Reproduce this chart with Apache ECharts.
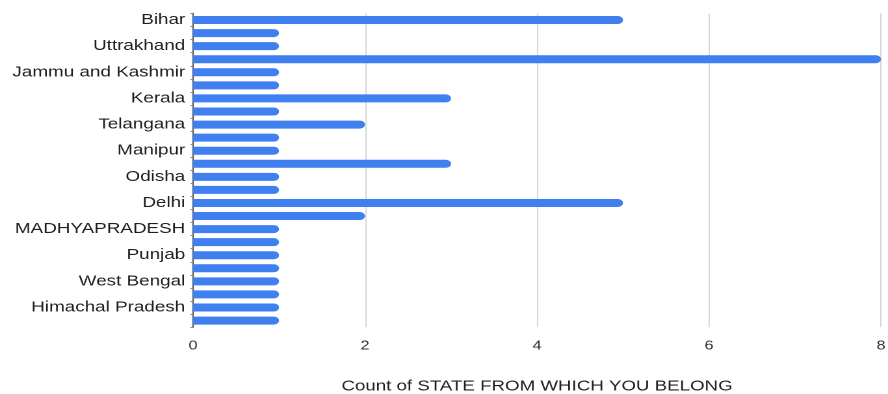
<!DOCTYPE html>
<html>
<head>
<meta charset="utf-8">
<script src="https://cdn.jsdelivr.net/npm/echarts@6/dist/echarts.min.js"></script>
<style>
  html, body { margin: 0; padding: 0; background: #fff; overflow: hidden; }
  /* the chart is laid out narrower and stretched horizontally */
  #chart { width: 683px; height: 394px; transform: scaleX(1.30015); transform-origin: 0 0; }
</style>
</head>
<body>
<div id="chart"></div>
<script>
// States, top to bottom (every other label is left unshown on the axis)
const states = [
  'Bihar', '', 'Uttrakhand', '', 'Jammu and Kashmir', '', 'Kerala', '',
  'Telangana', '', 'Manipur', '', 'Odisha', '', 'Delhi', '',
  'MADHYAPRADESH', '', 'Punjab', '', 'West Bengal', '', 'Himachal Pradesh', ''
];
// Count of respondents per state
const counts = [5, 1, 1, 8, 1, 1, 3, 1, 2, 1, 1, 3, 1, 1, 5, 2, 1, 1, 1, 1, 1, 1, 1, 1];
const xTicks = [0, 2, 4, 6, 8];
const xTitle = 'Count of STATE FROM WHICH YOU BELONG';

const chart = echarts.init(document.getElementById('chart'), null, { renderer: 'canvas', devicePixelRatio: 2 });
const font = '"Liberation Sans", Arial, sans-serif';

chart.setOption({
  animation: false,
  backgroundColor: '#ffffff',
  grid: { left: 148.5, right: 5.4, top: 13.5, bottom: 66.9, containLabel: false, outerBoundsMode: 'none' },
  xAxis: {
    type: 'value',
    min: xTicks[0],
    max: xTicks[xTicks.length - 1],
    interval: xTicks[1] - xTicks[0],
    name: xTitle,
    nameLocation: 'middle',
    nameGap: 52.5,
    nameTextStyle: { fontFamily: font, fontSize: 14.4, color: '#222' },
    axisLine: { show: false },
    axisTick: { show: false },
    axisLabel: { fontFamily: font, fontSize: 12.5, color: '#333', margin: 12.5 },
    splitLine: { show: true, lineStyle: { color: '#d6d6d6', width: 1 } }
  },
  yAxis: {
    type: 'category',
    data: states,
    inverse: true,
    axisLine: { show: true, lineStyle: { color: '#5f5f5f', width: 1.2 } },
    axisTick: { show: true, length: 2, interval: 0, lineStyle: { color: '#888' } },
    axisLabel: { interval: 0, margin: 6, fontFamily: font, fontSize: 14.5, color: '#1f1f1f' },
    splitLine: { show: false }
  },
  series: [{
    type: 'bar',
    data: counts,
    barWidth: 8,
    itemStyle: { color: '#3f7ff0', borderRadius: [0, 4, 4, 0] }
  }]
});
</script>
</body>
</html>
